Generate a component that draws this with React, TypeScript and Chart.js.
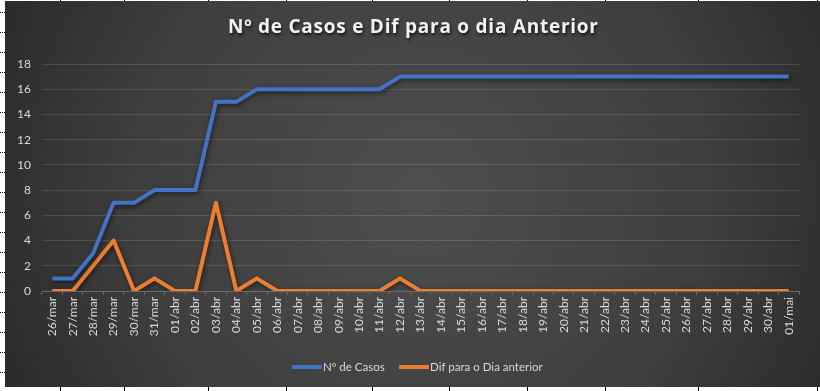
import React, { useEffect, useRef } from "react";
import { Chart, registerables } from "chart.js";

Chart.register(...registerables);

const categories = [
  "26/mar", "27/mar", "28/mar", "29/mar", "30/mar", "31/mar",
  "01/abr", "02/abr", "03/abr", "04/abr", "05/abr", "06/abr", "07/abr", "08/abr", "09/abr", "10/abr",
  "11/abr", "12/abr", "13/abr", "14/abr", "15/abr", "16/abr", "17/abr", "18/abr", "19/abr", "20/abr",
  "21/abr", "22/abr", "23/abr", "24/abr", "25/abr", "26/abr", "27/abr", "28/abr", "29/abr", "30/abr",
  "01/mai",
];

const casos = [
  1, 1, 3, 7, 7, 8,
  8, 8, 15, 15, 16, 16, 16, 16, 16, 16,
  16, 17, 17, 17, 17, 17, 17, 17, 17, 17,
  17, 17, 17, 17, 17, 17, 17, 17, 17, 17,
  17,
];

const difAnterior = [
  0, 0, 2, 4, 0, 1,
  0, 0, 7, 0, 1, 0, 0, 0, 0, 0,
  0, 1, 0, 0, 0, 0, 0, 0, 0, 0,
  0, 0, 0, 0, 0, 0, 0, 0, 0, 0,
  0,
];

const seriesNames = ["Nº de Casos", "Dif para o Dia anterior"];
const seriesColors = ["#4472C4", "#ED7D31"];
const titleText = "Nº de Casos e Dif para o dia Anterior";
const yTicks = [0, 2, 4, 6, 8, 10, 12, 14, 16, 18];

const FONT = "Lato, 'Open Sans', sans-serif";
const TITLE_FONT = "'Open Sans', Lato, sans-serif";

const sheetPlugin = {
  id: "sheet",
  beforeDraw(chart: any) {
    const ctx = chart.ctx as CanvasRenderingContext2D;
    const W = chart.width;
    const H = chart.height;
    ctx.save();
    ctx.fillStyle = "#ffffff";
    ctx.fillRect(0, 0, W, H);
    ctx.fillStyle = "#000000";
    for (let y = 12; y < H; y += 20) {
      for (let x = 0; x < 5; x += 2) ctx.fillRect(x, y, 1, 1);
    }
    const cols = [60, 124, 208, 286, 372, 449, 527, 605, 698, 817];
    cols.forEach((x) => {
      ctx.fillRect(x, 0, 1, 1);
      ctx.fillRect(x, 387, 1, 4);
    });
    const g = ctx.createRadialGradient(420, 190, 0, 420, 190, 520);
    g.addColorStop(0, "#4e4e4e");
    g.addColorStop(0.55, "#3e3e3e");
    g.addColorStop(1, "#232323");
    ctx.fillStyle = g;
    ctx.fillRect(5, 1, W - 5, 386);
    ctx.restore();
  },
  beforeDatasetsDraw(chart: any) {
    const ctx = chart.ctx as CanvasRenderingContext2D;
    ctx.save();
    ctx.shadowColor = "rgba(0,0,0,0.55)";
    ctx.shadowBlur = 5;
    ctx.shadowOffsetX = 1;
    ctx.shadowOffsetY = 2;
  },
  afterDatasetsDraw(chart: any) {
    chart.ctx.restore();
  },
  afterDraw(chart: any) {
    const ctx = chart.ctx as CanvasRenderingContext2D;
    ctx.save();
    ctx.font = `bold 19px ${TITLE_FONT}`;
    ctx.textBaseline = "alphabetic";
    ctx.textAlign = "left";
    const chars = Array.from(titleText);
    const raw = ctx.measureText(titleText).width;
    const target = 370;
    const sp = (target - raw) / (chars.length - 1);
    let x = 413 - target / 2;
    ctx.shadowColor = "rgba(0,0,0,0.7)";
    ctx.shadowBlur = 3;
    ctx.shadowOffsetX = 1;
    ctx.shadowOffsetY = 2;
    ctx.fillStyle = "#f2f2f2";
    chars.forEach((c) => {
      ctx.fillText(c, x, 33);
      x += ctx.measureText(c).width + sp;
    });
    ctx.restore();

    ctx.save();
    ctx.font = `11.5px ${FONT}`;
    ctx.textBaseline = "middle";
    ctx.textAlign = "left";
    const ly = 367;
    const starts = [292, 399];
    chart.data.datasets.forEach((ds: any, i: number) => {
      const sx = starts[i];
      ctx.fillStyle = ds.borderColor;
      ctx.fillRect(sx, ly - 2, 30, 4);
      ctx.fillStyle = "#d9d9d9";
      ctx.fillText(ds.label, sx + 31, ly);
    });
    ctx.restore();
  },
};

export default function App() {
  const ref = useRef<HTMLCanvasElement | null>(null);

  useEffect(() => {
    document.body.style.margin = "0";
    const canvas = ref.current;
    if (!canvas) return;
    const chart = new Chart(canvas, {
      type: "line",
      data: {
        labels: categories,
        datasets: [
          {
            label: seriesNames[0],
            data: casos,
            borderColor: seriesColors[0],
            backgroundColor: seriesColors[0],
            borderWidth: 4,
            pointRadius: 0,
            tension: 0,
            borderJoinStyle: "round",
            borderCapStyle: "butt",
          },
          {
            label: seriesNames[1],
            data: difAnterior,
            borderColor: seriesColors[1],
            backgroundColor: seriesColors[1],
            borderWidth: 4,
            pointRadius: 0,
            tension: 0,
            borderJoinStyle: "round",
            borderCapStyle: "butt",
          },
        ],
      },
      options: {
        responsive: false,
        animation: false,
        devicePixelRatio: 1,
        layout: { padding: { left: 5, right: 21, top: 64, bottom: 50 } },
        plugins: {
          legend: { display: false },
          title: { display: false },
          tooltip: { enabled: false },
        },
        scales: {
          x: {
            offset: true,
            afterFit(scale: any) {
              scale.height = 50;
            },
            grid: {
              display: true,
              offset: true,
              drawOnChartArea: false,
              drawTicks: true,
              tickLength: 4,
              color: "#6a6a6a",
            },
            border: { display: true, color: "#6a6a6a", width: 1 },
            ticks: {
              color: "#d9d9d9",
              font: { family: FONT, size: 12 },
              minRotation: 90,
              maxRotation: 90,
              autoSkip: false,
              padding: 2,
            },
          },
          y: {
            min: 0,
            max: 18,
            afterFit(scale: any) {
              scale.width = 37;
            },
            afterBuildTicks(scale: any) {
              scale.ticks = yTicks.map((v) => ({ value: v }));
            },
            grid: {
              color: "rgba(255,255,255,0.13)",
              drawTicks: false,
            },
            border: { display: false },
            ticks: {
              color: "#d9d9d9",
              font: { family: FONT, size: 12 },
              padding: 11,
            },
          },
        },
      },
      plugins: [sheetPlugin],
    });
    return () => chart.destroy();
  }, []);

  return (
    <div style={{ position: "absolute", left: 0, top: 0, width: 820, height: 391 }}>
      <canvas ref={ref} width={820} height={391} style={{ width: 820, height: 391 }} />
    </div>
  );
}
